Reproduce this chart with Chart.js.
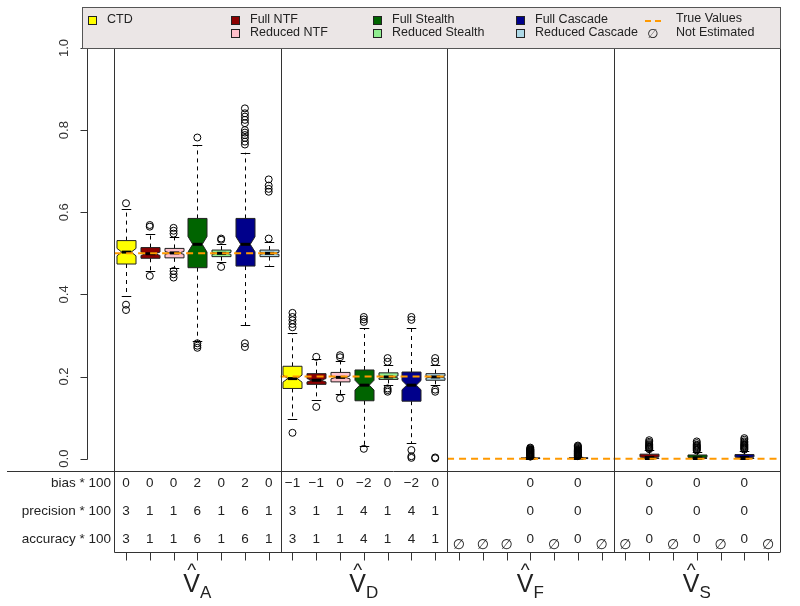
<!DOCTYPE html>
<html>
<head>
<meta charset="utf-8">
<script src="https://cdn.jsdelivr.net/npm/chart.js@4.4.0/dist/chart.umd.min.js"></script>
<style>
html, body { margin: 0; padding: 0; background: #fff; }
canvas { display: block; }
</style>
</head>
<body>
<canvas id="myChart" width="800" height="606"></canvas>
<script>
// series inside every group
const seriesNames = ['CTD', 'Full NTF', 'Reduced NTF', 'Full Stealth', 'Reduced Stealth', 'Full Cascade', 'Reduced Cascade'];
const seriesColors = ['#ffff00', '#8b0000', '#ffc0cb', '#006400', '#90ee90', '#00008b', '#add8e6'];
const groupNames = ['A', 'D', 'F', 'S'];
const trueValues = [0.5, 0.2, 0, 0];
const yTicks = [0, 0.2, 0.4, 0.6, 0.8, 1.0];
const nRuns = 100; // used for the notch size

// box stats, one slot per box (7 per group), null = not estimated
const whiskerLow = [0.397, 0.457, 0.465, 0.287, 0.479, 0.325, 0.470,
                    0.096, 0.143, 0.157, 0.030, 0.179, 0.037, 0.179,
                    null, null, null, 0, null, 0, null,
                    null, 0, null, 0, null, 0, null];
const q1 = [0.474, 0.488, 0.489, 0.465, 0.492, 0.469, 0.492,
            0.171, 0.181, 0.187, 0.141, 0.193, 0.140, 0.191,
            null, null, null, 0.0003, null, 0.0003, null,
            null, 0.0005, null, 0.0005, null, 0.0005, null];
const median = [0.503, 0.499, 0.501, 0.522, 0.500, 0.522, 0.500,
                0.195, 0.191, 0.198, 0.179, 0.199, 0.179, 0.199,
                null, null, null, 0.0008, null, 0.0008, null,
                null, 0.003, null, 0.002, null, 0.003, null];
const q3 = [0.531, 0.514, 0.512, 0.585, 0.508, 0.585, 0.508,
            0.225, 0.207, 0.210, 0.216, 0.209, 0.211, 0.207,
            null, null, null, 0.0018, null, 0.002, null,
            null, 0.011, null, 0.009, null, 0.010, null];
const whiskerHigh = [0.607, 0.547, 0.540, 0.764, 0.522, 0.745, 0.528,
                     0.305, 0.242, 0.238, 0.317, 0.228, 0.317, 0.228,
                     null, null, null, 0.004, null, 0.0045, null,
                     null, 0.020, null, 0.017, null, 0.019, null];
const outliers = [
  [0.622, 0.375, 0.362],
  [0.569, 0.565, 0.445],
  [0.562, 0.555, 0.548, 0.457, 0.449, 0.441],
  [0.782, 0.281, 0.275, 0.270],
  [0.536, 0.533, 0.467],
  [0.853, 0.841, 0.833, 0.825, 0.817, 0.800, 0.794, 0.788, 0.781, 0.772, 0.765, 0.281, 0.272],
  [0.680, 0.665, 0.657, 0.650, 0.536],
  [0.355, 0.345, 0.337, 0.328, 0.320, 0.063],
  [0.248, 0.126],
  [0.252, 0.247, 0.147],
  [0.345, 0.339, 0.333, 0.024],
  [0.245, 0.236, 0.171, 0.167, 0.163],
  [0.345, 0.338, 0.021, 0.006, 0.002],
  [0.245, 0.236, 0.168, 0.163, 0.003, 0.001],
  [], [], [],
  [0.005, 0.006, 0.007, 0.008, 0.009, 0.010, 0.011, 0.012, 0.013, 0.014, 0.015, 0.016, 0.017, 0.018, 0.019, 0.020, 0.021, 0.022, 0.023, 0.025, 0.027],
  [],
  [0.006, 0.007, 0.008, 0.009, 0.010, 0.011, 0.012, 0.013, 0.014, 0.015, 0.016, 0.017, 0.018, 0.019, 0.020, 0.021, 0.022, 0.024, 0.026, 0.028, 0.030, 0.032],
  [],
  [],
  [0.023, 0.025, 0.027, 0.029, 0.031, 0.033, 0.035, 0.038, 0.041, 0.045],
  [],
  [0.020, 0.022, 0.024, 0.026, 0.028, 0.030, 0.032, 0.034, 0.038, 0.042],
  [],
  [0.022, 0.024, 0.026, 0.028, 0.030, 0.032, 0.034, 0.036, 0.039, 0.042, 0.046, 0.050],
  []
];

// table under the plot (values * 100)
const rowLabels = ['bias * 100', 'precision * 100', 'accuracy * 100'];
const bias = [0, 0, 0, 2, 0, 2, 0,  -1, -1, 0, -2, 0, -2, 0,  null, null, null, 0, null, 0, null,  null, 0, null, 0, null, 0, null];
const precision = [3, 1, 1, 6, 1, 6, 1,  3, 1, 1, 4, 1, 4, 1,  null, null, null, 0, null, 0, null,  null, 0, null, 0, null, 0, null];
const accuracy = [3, 1, 1, 6, 1, 6, 1,  3, 1, 1, 4, 1, 4, 1,  null, null, null, 0, null, 0, null,  null, 0, null, 0, null, 0, null];

const FONT = '"Liberation Sans", Arial, sans-serif';
const LINE = '#333';

function fmt(v) {
    return v < 0 ? '\u2212' + Math.abs(v) : String(v);
}

const boxPlugin = {
    id: 'boxes',
    beforeDatasetsDraw(chart) {
        const ctx = chart.ctx;
        const xs = chart.scales.x, ys = chart.scales.y;
        const half = (xs.getPixelForValue(1) - xs.getPixelForValue(0)) * 0.4;
        for (let i = 0; i < median.length; i++) {
            if (median[i] === null) continue;
            const cx = Math.round(xs.getPixelForValue(i + 1)) + 0.5;
            const pLo = ys.getPixelForValue(whiskerLow[i]);
            const pHi = ys.getPixelForValue(whiskerHigh[i]);
            const pQ1 = ys.getPixelForValue(q1[i]);
            const pQ3 = ys.getPixelForValue(q3[i]);
            const pMed = ys.getPixelForValue(median[i]);
            const nh = 1.58 * (q3[i] - q1[i]) / Math.sqrt(nRuns);
            const pN1 = ys.getPixelForValue(median[i] - nh);
            const pN2 = ys.getPixelForValue(median[i] + nh);

            ctx.save();
            ctx.strokeStyle = '#000';
            ctx.lineWidth = 1;
            ctx.setLineDash([4, 4]);
            ctx.beginPath();
            ctx.moveTo(cx, pQ3); ctx.lineTo(cx, pHi);
            ctx.moveTo(cx, pQ1); ctx.lineTo(cx, pLo);
            ctx.stroke();
            ctx.setLineDash([]);
            ctx.beginPath();
            ctx.moveTo(cx - half / 2, Math.round(pHi) + 0.5); ctx.lineTo(cx + half / 2, Math.round(pHi) + 0.5);
            ctx.moveTo(cx - half / 2, Math.round(pLo) + 0.5); ctx.lineTo(cx + half / 2, Math.round(pLo) + 0.5);
            ctx.stroke();

            // notched box
            ctx.beginPath();
            ctx.moveTo(cx - half, pQ1);
            ctx.lineTo(cx - half, pN1);
            ctx.lineTo(cx - half / 2, pMed);
            ctx.lineTo(cx - half, pN2);
            ctx.lineTo(cx - half, pQ3);
            ctx.lineTo(cx + half, pQ3);
            ctx.lineTo(cx + half, pN2);
            ctx.lineTo(cx + half / 2, pMed);
            ctx.lineTo(cx + half, pN1);
            ctx.lineTo(cx + half, pQ1);
            ctx.closePath();
            ctx.fillStyle = seriesColors[i % 7];
            ctx.fill();
            ctx.strokeStyle = '#222';
            ctx.stroke();

            ctx.lineWidth = 3;
            ctx.beginPath();
            ctx.moveTo(cx - half / 2, pMed); ctx.lineTo(cx + half / 2, pMed);
            ctx.strokeStyle = '#000';
            ctx.stroke();
            ctx.restore();
        }
    },
    afterDraw(chart) {
        const ctx = chart.ctx;
        const xs = chart.scales.x, ys = chart.scales.y;
        const area = chart.chartArea;
        const tableBottom = 552.5;
        ctx.save();
        ctx.strokeStyle = LINE;
        ctx.lineWidth = 1;

        // y axis
        const yAxisX = area.left + 0.5;
        ctx.beginPath();
        ctx.moveTo(yAxisX, Math.round(ys.getPixelForValue(yTicks[0])) + 0.5);
        ctx.lineTo(yAxisX, Math.round(ys.getPixelForValue(yTicks[yTicks.length - 1])) + 0.5);
        yTicks.forEach(t => {
            const py = Math.round(ys.getPixelForValue(t)) + 0.5;
            ctx.moveTo(yAxisX - 7, py); ctx.lineTo(yAxisX, py);
        });
        ctx.stroke();
        ctx.fillStyle = '#333';
        ctx.font = '13px ' + FONT;
        ctx.textAlign = 'center';
        ctx.textBaseline = 'middle';
        yTicks.forEach(t => {
            ctx.save();
            ctx.translate(64, ys.getPixelForValue(t));
            ctx.rotate(-Math.PI / 2);
            ctx.fillText(t.toFixed(1), 0, 0);
            ctx.restore();
        });

        // group separators and frame
        ctx.beginPath();
        for (let g = 0; g <= groupNames.length; g++) {
            const px = Math.round(xs.getPixelForValue(g * 7 + 0.5)) + 0.5;
            ctx.moveTo(px, area.top);
            ctx.lineTo(px, tableBottom);
        }
        const hy = Math.round(area.bottom) + 0.5;
        ctx.moveTo(7, hy); ctx.lineTo(area.right, hy);
        ctx.moveTo(Math.round(xs.getPixelForValue(0.5)) + 0.5, tableBottom);
        ctx.lineTo(area.right, tableBottom);
        for (let i = 1; i <= median.length; i++) {
            const px = Math.round(xs.getPixelForValue(i)) + 0.5;
            ctx.moveTo(px, tableBottom); ctx.lineTo(px, tableBottom + 8);
        }
        ctx.stroke();

        // table
        const rowY = [483, 511, 539];
        const rows = [bias, precision, accuracy];
        ctx.fillStyle = '#222';
        ctx.font = '13.5px ' + FONT;
        ctx.textAlign = 'right';
        rowLabels.forEach((l, r) => ctx.fillText(l, 111, rowY[r]));
        ctx.textAlign = 'center';
        rows.forEach((vals, r) => {
            vals.forEach((v, i) => {
                if (v === null) return;
                ctx.fillText(fmt(v), xs.getPixelForValue(i + 1), rowY[r]);
            });
        });
        ctx.font = '14px "DejaVu Sans", sans-serif';
        median.forEach((m, i) => {
            if (m === null) ctx.fillText('\u2205', xs.getPixelForValue(i + 1), 545);
        });

        // group labels  V-hat with subscript
        groupNames.forEach((g, k) => {
            const cx = xs.getPixelForValue(k * 7 + 4);
            ctx.font = '25px ' + FONT;
            const vw = ctx.measureText('V').width;
            ctx.font = '17px ' + FONT;
            const sw = ctx.measureText(g).width;
            const left = cx - (vw + sw) / 2;
            ctx.textAlign = 'left';
            ctx.textBaseline = 'alphabetic';
            ctx.font = '25px ' + FONT;
            ctx.fillText('V', left, 592);
            ctx.font = '19px ' + FONT;
            ctx.textAlign = 'center';
            ctx.fillText('^', left + vw / 2, 576);
            ctx.font = '17px ' + FONT;
            ctx.textAlign = 'left';
            ctx.fillText(g, left + vw, 598);
        });

        // legend
        ctx.fillStyle = '#ebe6e6';
        ctx.fillRect(82, 7, 698, 41);
        ctx.strokeStyle = '#555';
        ctx.strokeRect(82.5, 7.5, 698, 41);
        const colX = [92, 235, 377, 520];
        const rowLY = [20, 33];
        const slots = [[0, 0], [1, 0], [1, 1], [2, 0], [2, 1], [3, 0], [3, 1]];
        ctx.font = '12.5px ' + FONT;
        ctx.textBaseline = 'middle';
        ctx.textAlign = 'left';
        seriesNames.forEach((name, s) => {
            const x = colX[slots[s][0]], y = rowLY[slots[s][1]];
            ctx.fillStyle = seriesColors[s];
            ctx.fillRect(x - 4, y - 4, 9, 9);
            ctx.strokeStyle = '#222';
            ctx.strokeRect(x - 4 + 0.5, y - 4 + 0.5, 8, 8);
            ctx.fillStyle = '#222';
            ctx.fillText(name, x + 15, y);
        });
        ctx.strokeStyle = '#ff9900';
        ctx.lineWidth = 2;
        ctx.setLineDash([6, 4]);
        ctx.beginPath();
        ctx.moveTo(645, 21); ctx.lineTo(662, 21);
        ctx.stroke();
        ctx.setLineDash([]);
        ctx.fillStyle = '#222';
        ctx.fillText('True Values', 676, 19);
        ctx.fillText('Not Estimated', 676, 33);
        ctx.font = '13px "DejaVu Sans", sans-serif';
        ctx.textAlign = 'center';
        ctx.fillText('\u2205', 653, 35);
        ctx.restore();
    }
};

const datasets = [];
groupNames.forEach((g, k) => {
    datasets.push({
        type: 'line',
        label: 'True ' + g,
        data: [{ x: k * 7 + 0.5, y: trueValues[k] }, { x: k * 7 + 7.5, y: trueValues[k] }],
        borderColor: '#ff9900',
        borderWidth: 2,
        borderDash: [7, 5],
        pointRadius: 0,
        showLine: true,
        order: 1
    });
});
seriesNames.forEach((name, s) => {
    const pts = [];
    for (let i = s; i < outliers.length; i += 7) {
        outliers[i].forEach(v => pts.push({ x: i + 1, y: v }));
    }
    datasets.push({
        type: 'scatter',
        label: name,
        data: pts,
        pointStyle: 'circle',
        pointRadius: 3.5,
        backgroundColor: 'rgba(255,255,255,0)',
        borderColor: '#000',
        borderWidth: 1,
        order: 0
    });
});

const ctx = document.getElementById('myChart');
new Chart(ctx, {
    type: 'scatter',
    data: { datasets: datasets },
    options: {
        responsive: false,
        animation: false,
        devicePixelRatio: 1,
        layout: { padding: { left: 87, right: 20, top: 48, bottom: 135 } },
        plugins: { legend: { display: false }, tooltip: { enabled: false } },
        scales: {
            x: { type: 'linear', min: -0.64, max: 28.5, display: false },
            y: { type: 'linear', min: -0.03, max: 1.0, display: false }
        }
    },
    plugins: [boxPlugin]
});
</script>
</body>
</html>
